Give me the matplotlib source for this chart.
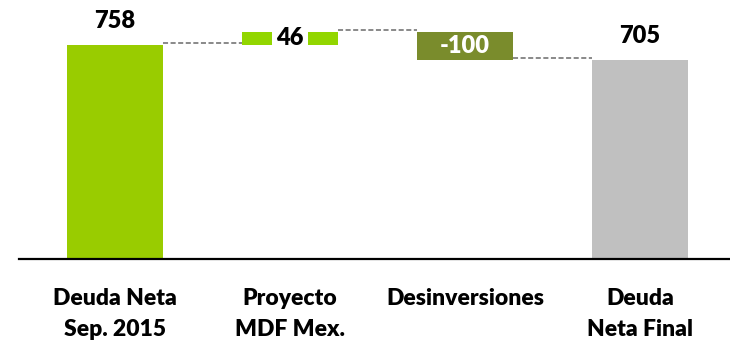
import matplotlib.pyplot as plt

# --------------------------------------------------
# Data
# --------------------------------------------------
categories = ["Deuda Neta\nSep. 2015", "Proyecto\nMDF Mex.", "Desinversiones", "Deuda\nNeta Final"]
values = [758, 46, -100, 705]
is_total = [True, False, False, True]
colors = ["#99CC00", "#92D600", "#7A8C2C", "#C0C0C0"]
value_labels = ["758", "46", "-100", "705"]

plt.rcParams["font.family"] = ["Lato", "DejaVu Sans"]
WEIGHT = 800

# --------------------------------------------------
# Waterfall geometry
# --------------------------------------------------
bottoms = []
heights = []
level = 0
for v, total in zip(values, is_total):
    if total:
        bottoms.append(0)
        heights.append(v)
        level = v
    else:
        bottoms.append(min(level, level + v))
        heights.append(abs(v))
        level += v

fig = plt.figure(figsize=(7.30, 3.43), dpi=100)
ax = fig.add_axes([19 / 730, 84 / 343, 711 / 730, 259 / 343])

x = list(range(len(values)))
width = 0.55
ax.bar(x, heights, bottom=bottoms, width=width, color=colors, zorder=2)

# connectors
levels = []
level = 0
for v, total in zip(values, is_total):
    level = v if total else level + v
    levels.append(level)
for i in range(len(values) - 1):
    ax.plot([x[i] + width / 2, x[i + 1] - width / 2], [levels[i] + 6, levels[i] + 6],
            color="#808080", linestyle=(0, (2.8, 1.4)), linewidth=1.3, zorder=1)

# value labels
for i, (b, h, lab) in enumerate(zip(bottoms, heights, value_labels)):
    if is_total[i]:
        ax.text(x[i], b + h + 84, lab, ha="center", va="center",
                fontsize=17, fontweight=WEIGHT, color="black")
    elif values[i] > 0:
        ax.text(x[i], b + h / 2, lab, ha="center", va="center",
                fontsize=17, fontweight=WEIGHT, color="black", zorder=3,
                bbox=dict(facecolor="white", edgecolor="none", pad=3.0))
    else:
        ax.text(x[i], b + h / 2, lab, ha="center", va="center",
                fontsize=17, fontweight=WEIGHT, color="white", zorder=3)

ax.set_xlim(-0.549, 3.514)
ax.set_ylim(0, 917)
ax.set_xticks(x)
ax.set_xticklabels(categories, fontsize=16.5, fontweight=WEIGHT, linespacing=1.6)
ax.tick_params(axis="x", length=0, pad=21)
ax.set_yticks([])
for side in ["top", "right", "left"]:
    ax.spines[side].set_visible(False)
ax.spines["bottom"].set_linewidth(1.6)

fig.savefig("out.png", dpi=100)
